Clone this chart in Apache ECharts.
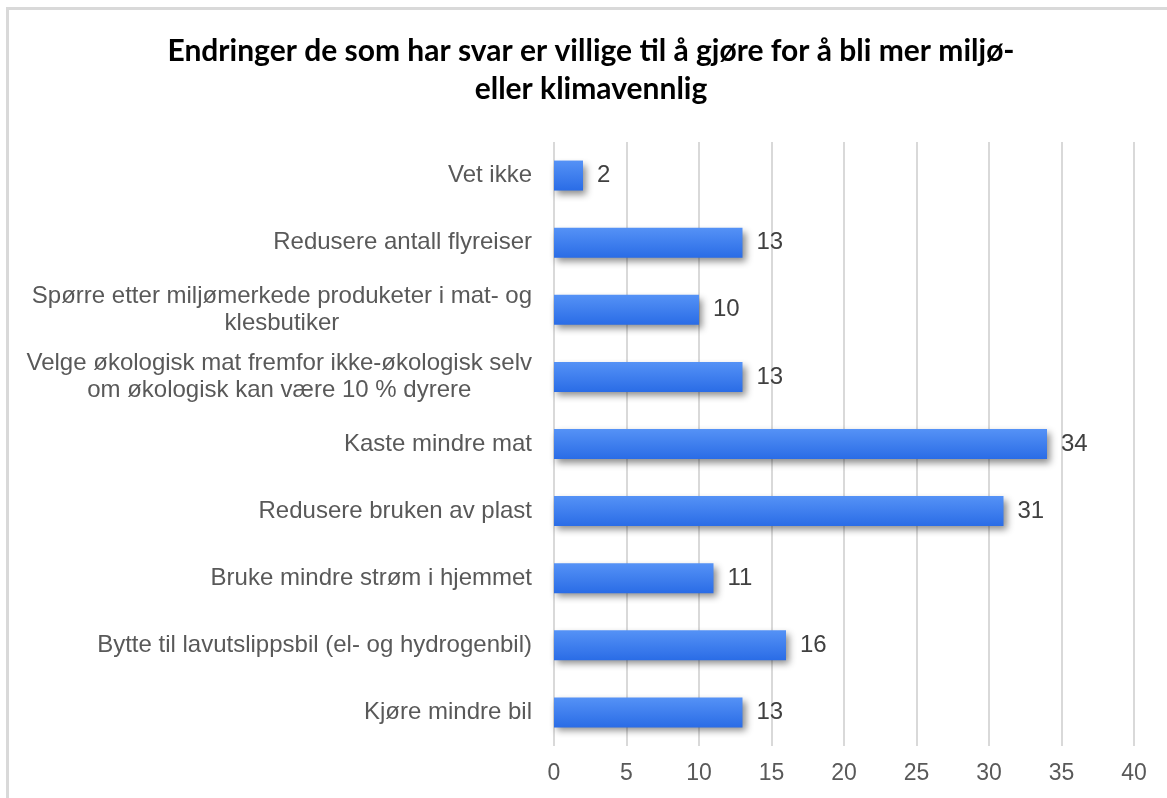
<!DOCTYPE html>
<html>
<head>
<meta charset="utf-8">
<script src="https://cdn.jsdelivr.net/npm/echarts@6/dist/echarts.min.js"></script>
<style>
html, body { margin: 0; padding: 0; background: #fff; overflow: hidden; }
#frame { position: absolute; left: 6px; top: 7px; width: 1300px; height: 900px;
  border-left: 3px solid #d9d9d9; border-top: 3px solid #d9d9d9; }
#chart { position: absolute; left: 0; top: 0; width: 1167px; height: 798px; }
</style>
</head>
<body>
<div id="frame"></div>
<div id="chart"></div>
<script>
var titleText = 'Endringer de som har svar er villige til å gjøre for å bli mer miljø-\neller klimavennlig';
var categories = [
    'Kjøre mindre bil',
    'Bytte til lavutslippsbil (el- og hydrogenbil)',
    'Bruke mindre strøm i hjemmet',
    'Redusere bruken av plast',
    'Kaste mindre mat',
    'Velge økologisk mat fremfor ikke-økologisk selv\nom økologisk kan være 10 % dyrere',
    'Spørre etter miljømerkede produketer i mat- og\nklesbutiker',
    'Redusere antall flyreiser',
    'Vet ikke'
];
var values = [13, 16, 11, 31, 34, 13, 10, 13, 2];
var xTicks = [0, 5, 10, 15, 20, 25, 30, 35, 40];

var myChart = echarts.init(document.getElementById('chart'));
var option = {
    backgroundColor: 'transparent',
    title: {
        text: titleText,
        left: 586,
        top: 27,
        textAlign: 'center',
        textStyle: {
            fontFamily: 'Lato',
            fontWeight: 'bold',
            fontSize: 30,
            lineHeight: 38,
            color: '#000'
        }
    },
    grid: {
        left: 554,
        right: 33,
        top: 142,
        bottom: 52,
        containLabel: false
    },
    xAxis: {
        type: 'value',
        min: xTicks[0],
        max: xTicks[xTicks.length - 1],
        interval: 5,
        axisLine: { show: false },
        axisTick: { show: false },
        splitLine: { lineStyle: { color: '#d9d9d9', width: 2 } },
        axisLabel: {
            margin: 16,
            fontFamily: 'Liberation Sans',
            fontSize: 23,
            color: '#595959'
        }
    },
    yAxis: {
        type: 'category',
        data: categories,
        axisLine: { show: false },
        axisTick: { show: false },
        axisLabel: {
            margin: 22,
            fontFamily: 'Liberation Sans',
            fontSize: 24,
            lineHeight: 27,
            color: '#595959',
            formatter: function (v) {
                return v.split('\n').map(function (s) { return '{c|' + s + '}'; }).join('\n');
            },
            rich: {
                c: {
                    align: 'center',
                    fontFamily: 'Liberation Sans',
                    fontSize: 24,
                    lineHeight: 27,
                    color: '#595959'
                }
            }
        }
    },
    series: [
        {
            type: 'bar',
            data: values,
            barWidth: 30,
            itemStyle: {
                color: new echarts.graphic.LinearGradient(0, 0, 0, 1, [
                    { offset: 0, color: '#5592f6' },
                    { offset: 1, color: '#2a6ce6' }
                ]),
                shadowColor: 'rgba(0,0,0,0.45)',
                shadowBlur: 7,
                shadowOffsetX: 3,
                shadowOffsetY: 4
            },
            label: {
                show: true,
                position: 'right',
                distance: 14,
                fontFamily: 'Liberation Sans',
                fontSize: 24,
                color: '#404040'
            }
        }
    ]
};
myChart.setOption(option);
</script>
</body>
</html>
